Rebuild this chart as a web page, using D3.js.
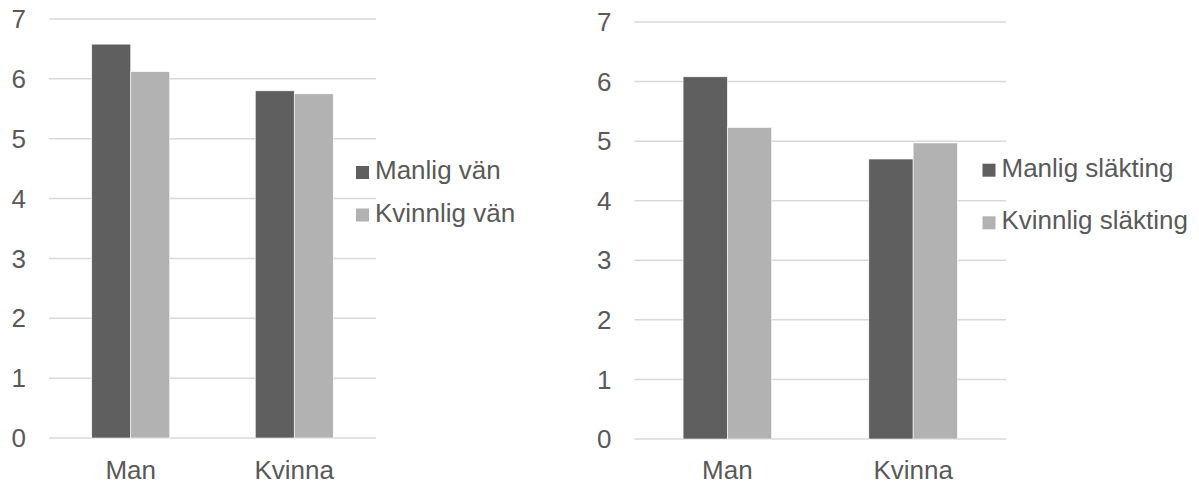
<!DOCTYPE html>
<html>
<head>
<meta charset="utf-8">
<script src="https://cdn.jsdelivr.net/npm/d3@7"></script>
<style>
  html, body { margin: 0; padding: 0; background: #fff; }
  svg { display: block; }
  text { font-family: "Liberation Sans", Arial, sans-serif; fill: #595959; }
</style>
</head>
<body>
<svg id="chart" width="1199" height="484"></svg>
<script>
const categories = ["Man", "Kvinna"];
const yTickValues = [0, 1, 2, 3, 4, 5, 6, 7];

const leftSeriesNames = ["Manlig vän", "Kvinnlig vän"];
const leftMale = [6.58, 5.80];
const leftFemale = [6.12, 5.75];

const rightSeriesNames = ["Manlig släkting", "Kvinnlig släkting"];
const rightMale = [6.08, 4.70];
const rightFemale = [5.23, 4.97];

const colors = ["#5f5f5f", "#b2b2b2"];
const FONT = 26;

const svg = d3.select("#chart");

function drawChart(opt) {
  const g = svg.append("g");
  const x = d3.scaleBand().domain(categories).range([opt.x0, opt.x1]).padding(0);
  const y = d3.scaleLinear().domain([0, 7]).range([opt.yBottom, opt.yTop]);
  const bw = x.bandwidth();
  const groupFrac = 0.477;
  const xs = d3.scaleBand().domain(opt.series).range([bw * (0.5 - groupFrac / 2), bw * (0.5 + groupFrac / 2)]).padding(0);

  // gridlines
  g.selectAll("line.grid").data(yTickValues).enter().append("line")
    .attr("x1", opt.x0).attr("x2", opt.x1)
    .attr("y1", d => y(d)).attr("y2", d => y(d))
    .attr("stroke", "#d9d9d9").attr("stroke-width", 1.5);

  // y tick labels
  g.selectAll("text.ytick").data(yTickValues).enter().append("text")
    .attr("x", opt.x0 - 23).attr("y", d => y(d))
    .attr("dy", "0.35em")
    .attr("text-anchor", "end")
    .style("font-size", FONT + "px")
    .text(d => d);

  // bars
  const vals = [opt.male, opt.female];
  opt.series.forEach((s, si) => {
    g.selectAll("rect.s" + si).data(categories).enter().append("rect")
      .attr("x", c => x(c) + xs(s))
      .attr("width", xs.bandwidth())
      .attr("y", (c, i) => y(vals[si][i]))
      .attr("height", (c, i) => y(0) - y(vals[si][i]))
      .attr("fill", colors[si])
      .attr("stroke", "#ffffff").attr("stroke-width", 0.6);
  });

  // category labels
  g.selectAll("text.cat").data(categories).enter().append("text")
    .attr("x", c => x(c) + bw / 2)
    .attr("y", 479)
    .attr("text-anchor", "middle")
    .style("font-size", FONT + "px")
    .text(c => c);

  // legend
  opt.series.forEach((s, si) => {
    const ly = opt.legendY[si];
    g.append("rect")
      .attr("x", opt.legendX).attr("y", ly - 13)
      .attr("width", 13).attr("height", 13)
      .attr("fill", colors[si]);
    g.append("text")
      .attr("x", opt.legendX + 19).attr("y", ly)
      .style("font-size", FONT + "px")
      .text(s);
  });
}

drawChart({
  x0: 49, x1: 376, yTop: 19, yBottom: 438,
  series: leftSeriesNames, male: leftMale, female: leftFemale,
  legendX: 356, legendY: [179, 221.5]
});

drawChart({
  x0: 634.5, x1: 1006, yTop: 22, yBottom: 439,
  series: rightSeriesNames, male: rightMale, female: rightFemale,
  legendX: 982.5, legendY: [176.7, 229.3]
});
</script>
</body>
</html>
